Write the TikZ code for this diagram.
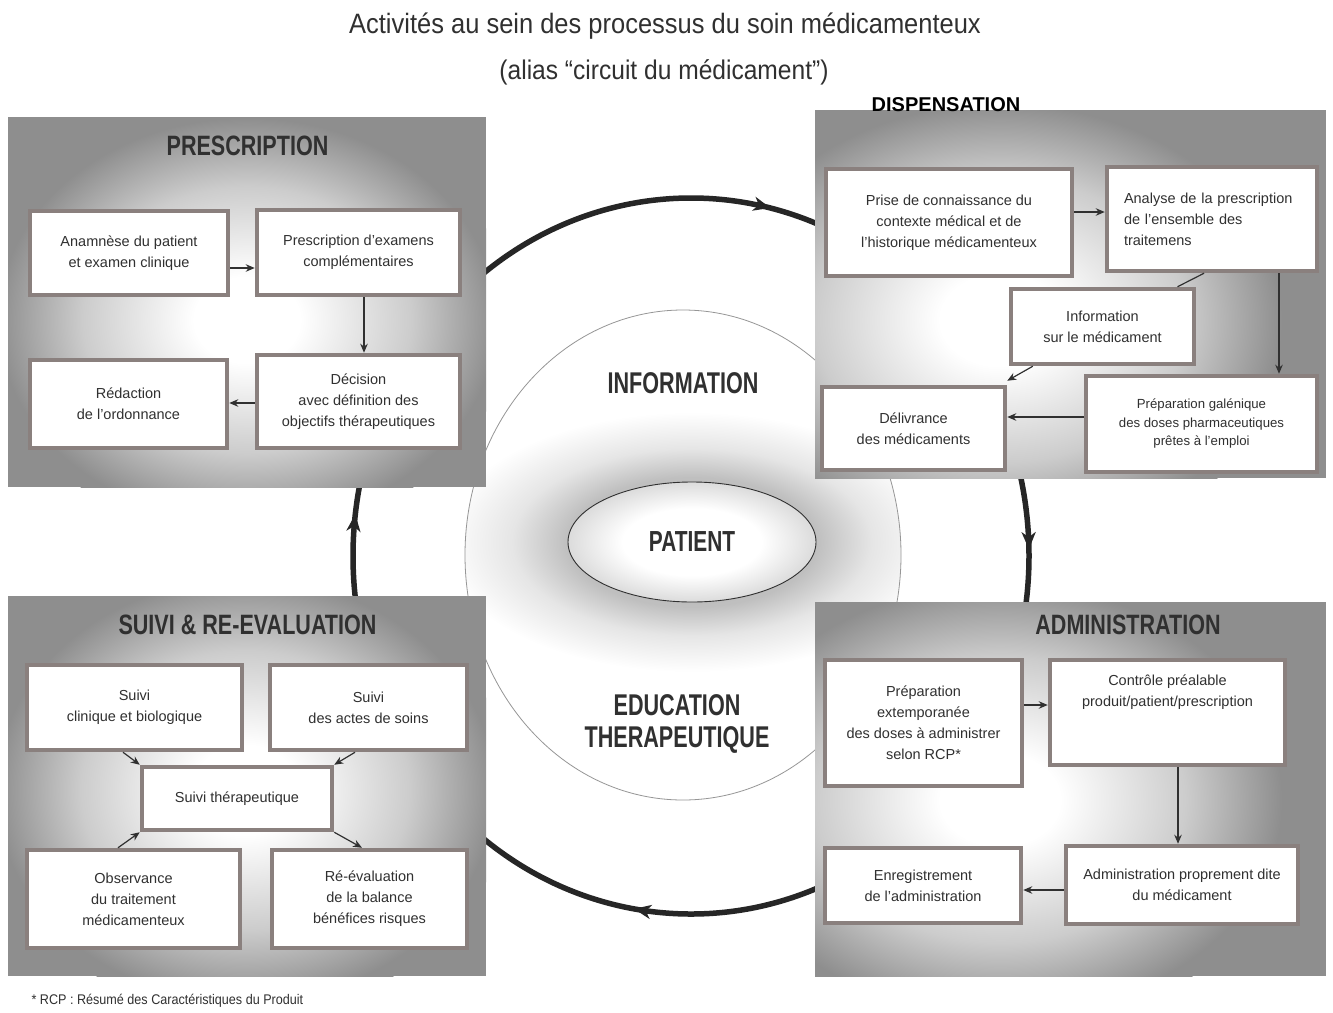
\documentclass[tikz,border=0pt]{standalone}
\usepackage{fontspec}
\setmainfont{Liberation Sans}
\newfontfamily\titlefont{Liberation Sans}[FakeStretch=0.91]
\newfontfamily\headfont{Liberation Sans}[FakeStretch=0.77]
\newfontfamily\bigfont{Liberation Sans}[FakeStretch=0.72]
\newfontfamily\notefont{Liberation Sans}[FakeStretch=0.9]
\usetikzlibrary{arrows.meta,calc,shapes.geometric,decorations.markings}

\definecolor{panelgray}{RGB}{142,142,142}
\definecolor{frame}{RGB}{138,128,126}
\definecolor{ink}{RGB}{48,48,48}
\definecolor{ringgray}{RGB}{150,150,150}
\definecolor{cyclecol}{RGB}{38,38,38}

% radial shadings: the shaded outline sits at 25bp
\pgfdeclareradialshading{panelglow}{\pgfpoint{0bp}{0bp}}{color(0bp)=(white); color(5bp)=(white); color(15.5bp)=(panelgray!45!white); color(23.5bp)=(panelgray); color(50bp)=(panelgray)}
\pgfdeclareradialshading{centreglow}{\pgfpoint{0bp}{0bp}}{color(0bp)=(black!32); color(12.5bp)=(black!25); color(18bp)=(black!10); color(25bp)=(white); color(50bp)=(white)}
\pgfdeclareradialshading{patientfill}{\pgfpoint{0bp}{0bp}}{color(0bp)=(white); color(14bp)=(white); color(25bp)=(black!14); color(50bp)=(black!14)}

\newcommand\cardfont{\fontsize{14.5}{21}\selectfont}
% radial shading placed with an upward y axis (x, y given downwards from the top)
\newcommand\glowellipse[5]{\begin{scope}[y=1pt]\shade[shading=#1] (#2,-#3) ellipse [x radius=#4, y radius=#5];\end{scope}}
% grey stage panel with a light centre
\newcommand\stagepanel[8]{\begin{scope}
  \clip (#1,#2) rectangle (#3,#4);
  \fill[panelgray] (#1,#2) rectangle (#3,#4);
  \glowellipse{panelglow}{#5}{#6}{#7}{#8}
\end{scope}}

\begin{document}
\begin{tikzpicture}[x=1pt,y=-1pt,
  card/.style={draw=frame, line width=4.5pt, fill=white, inner sep=0pt, align=center, text=ink, font=\cardfont},
  flowarrow/.style={draw=ink, line width=1.2pt, -{Stealth[length=9pt,width=7.5pt]}},
  plainlink/.style={draw=ink, line width=1.2pt},
  paneltitle/.style={font=\headfont\bfseries\fontsize{28}{32}\selectfont, text=ink},
  bigword/.style={font=\bigfont\bfseries\fontsize{30}{32}\selectfont, text=ink, align=center},
  cyclearc/.style={draw=cyclecol, line width=5.5pt, postaction={decorate, decoration={markings, mark=at position #1 with {\arrow{Stealth[length=17pt,width=14pt,inset=5pt]}}}}},
]
\useasboundingbox (0,0) rectangle (1333,1012);
\fill[white] (0,0) rectangle (1333,1012);

% soft halo around the patient, inside the information ring
\begin{scope}
  \clip (683,555) ellipse [x radius=218, y radius=245];
  \glowellipse{centreglow}{692}{542}{250}{130}
\end{scope}
\draw[ringgray, line width=0.8pt] (683,555) ellipse [x radius=218, y radius=245];

% the clockwise cycle between the four stages
\coordinate (ctr) at (691,556);
\draw[cyclearc=0.8]  ($(ctr)+(226:338 and 358)$) arc[start angle=226, end angle=298, x radius=338, y radius=358];
\draw[cyclearc=0.54] ($(ctr)+(-20:338 and 358)$) arc[start angle=-20, end angle=15, x radius=338, y radius=358];
\draw[cyclearc=0.52] ($(ctr)+(60:338 and 358)$) arc[start angle=60, end angle=136, x radius=338, y radius=358];
\draw[cyclearc=0.62] ($(ctr)+(165:338 and 358)$) arc[start angle=165, end angle=200, x radius=338, y radius=358];

% stage panels
\stagepanel{8}{117}{486}{487}{247}{320}{265}{215}
\stagepanel{815}{110}{1326}{478}{1000}{320}{300}{230}
\stagepanel{8}{596}{486}{976}{245}{790}{265}{225}
\stagepanel{815}{602}{1326}{976}{1000}{800}{300}{230}

\node[paneltitle] (tpresc) at (247.5,146) {PRESCRIPTION};
\node[paneltitle] (tsuivi) at (247.5,625) {SUIVI \& RE-EVALUATION};
\node[paneltitle] (tadmin) at (1128,625) {ADMINISTRATION};
\node[font=\bfseries\fontsize{20}{24}\selectfont, text=black] (tdisp) at (946,104.5) {DISPENSATION};

% prescription
\node[card, minimum width=198, minimum height=84] (ana) at (129,253) {Anamnèse du patient\\et examen clinique};
\node[card, minimum width=203, minimum height=85] (pex) at (358.5,252.5) {Prescription d'examens\\complémentaires};
\node[card, minimum width=203, minimum height=93] (dec) at (358.5,401.5) {Décision\\avec définition des\\objectifs thérapeutiques};
\node[card, minimum width=197, minimum height=88] (red) at (128.5,404) {Rédaction\\de l'ordonnance};
\path ($(ana.east)+(0,15)$) coordinate (p1) ($(pex.south)+(5.5,0)$) coordinate (p2) ($(dec.west)+(0,1.5)$) coordinate (p3);
\draw[flowarrow] (p1) -- (p1 -| pex.west);
\draw[flowarrow] (p2) -- (p2 |- dec.north);
\draw[flowarrow] (p3) -- (p3 -| red.east);

% dispensation
\node[card, minimum width=246, minimum height=107] (pri) at (949,222.5) {Prise de connaissance du\\contexte médical et de\\l'historique médicamenteux};
\node[card, align=left, text width=176, inner xsep=17pt, minimum height=104] (anp) at (1212,219) {Analyse de la prescription\\de l'ensemble des\\traitemens};
\node[card, minimum width=183, minimum height=75] (inf) at (1102.5,326.5) {Information\\sur le médicament};
\node[card, minimum width=231, minimum height=96, font=\fontsize{13.2}{18.5}\selectfont] (pga) at (1201.5,424) {Préparation galénique\\des doses pharmaceutiques\\prêtes à l'emploi};
\node[card, minimum width=183, minimum height=83] (del) at (913.5,428.5) {Délivrance\\des médicaments};
\path ($(pri.east)+(0,-10.5)$) coordinate (d1) ($(anp.south)+(67,0)$) coordinate (d2) ($(pga.west)+(0,-7)$) coordinate (d3);
\draw[flowarrow] (d1) -- (d1 -| anp.west);
\draw[flowarrow] (d2) -- (d2 |- pga.north);
\draw[flowarrow] (d3) -- (d3 -| del.east);
\draw[plainlink] ($(anp.south)+(-8,0)$) -- ($(inf.north)+(75,0)$);
\draw[flowarrow] ($(inf.south west)+(24,0)$) -- ($(del.north east)+(0,-4)$);

% follow-up
\node[card, minimum width=215, minimum height=85] (scl) at (134.5,707.5) {Suivi\\clinique et biologique};
\node[card, minimum width=197, minimum height=85] (sac) at (368.5,707.5) {Suivi\\des actes de soins};
\node[card, minimum width=190, minimum height=63] (sth) at (237,798.5) {Suivi thérapeutique};
\node[card, minimum width=213, minimum height=98] (obs) at (133.5,899) {Observance\\du traitement\\médicamenteux};
\node[card, minimum width=195, minimum height=98] (ree) at (369.5,899) {Ré-évaluation\\de la balance\\bénéfices risques};
\draw[flowarrow] ($(scl.south)+(-11.5,0)$) -- (sth.north west);
\draw[flowarrow] ($(sac.south)+(-13.5,0)$) -- (sth.north east);
\draw[flowarrow] ($(obs.north)+(-15.5,0)$) -- (sth.south west);
\draw[flowarrow] (sth.south east) -- ($(ree.north)+(-7.5,0)$);

% administration
\node[card, minimum width=197, minimum height=126] (pext) at (923.5,723) {Préparation\\extemporanée\\des doses à administrer\\selon RCP*};
\node[card, minimum width=235, minimum height=105,
  label={[anchor=north, align=center, text=ink, font=\cardfont, yshift=-14pt]north:Contrôle préalable\\produit/patient/prescription}] (ctl) at (1167.5,712.5) {};
\node[card, minimum width=232, minimum height=78] (adm) at (1182,885) {Administration proprement dite\\du médicament};
\node[card, minimum width=196, minimum height=75] (enr) at (923,885.5) {Enregistrement\\de l'administration};
\path ($(pext.east)+(0,-18)$) coordinate (m1) ($(ctl.south)+(10.5,0)$) coordinate (m2) ($(adm.west)+(0,5)$) coordinate (m3);
\draw[flowarrow] (m1) -- (m1 -| ctl.west);
\draw[flowarrow] (m2) -- (m2 |- adm.north);
\draw[flowarrow] (m3) -- (m3 -| enr.east);

% centre
\node[ellipse, draw=ink, line width=0.9pt, minimum width=248, minimum height=120, inner sep=0pt,
  shade, shading=patientfill, font=\bigfont\bfseries\fontsize{29}{32}\selectfont, text=ink] (pat) at (692,542) {PATIENT};
\node[bigword] (info) at (683,383) {INFORMATION};
\node[bigword] (edu) at (677,724) {EDUCATION\\THERAPEUTIQUE};

% headings and note
\node[font=\titlefont\fontsize{28}{32}\selectfont, text=ink] (title) at (665,26) {Activités au sein des processus du soin médicamenteux};
\node[font=\titlefont\fontsize{27}{32}\selectfont, text=ink] (subtitle) at (664,72) {(alias “circuit du médicament”)};
\node[anchor=west, font=\notefont\fontsize{14}{16}\selectfont, text=ink] (note) at (28,1001) {* RCP : Résumé des Caractéristiques du Produit};
\end{tikzpicture}
\end{document}
